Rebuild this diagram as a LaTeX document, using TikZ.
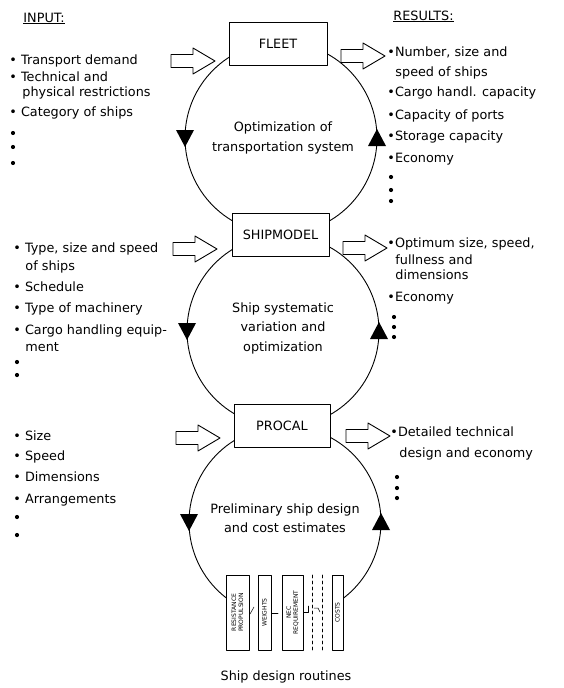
\documentclass[tikz,border=0pt]{standalone}
\usepackage{fontspec}
\setmainfont{DejaVu Sans}
\usetikzlibrary{positioning}
\newcommand{\bul}{\textbullet}

\tikzset{
  modelbox/.style={draw, fill=white, minimum height=43pt, inner sep=0pt},
  listitem/.style={anchor=base west, inner sep=0pt},
  goaltext/.style={align=center, inner sep=0pt, font=\fontsize{12.8}{19.5}\selectfont},
  routine/.style={draw, fill=white, rotate=90, minimum width=75pt, inner sep=1pt, align=center, font=\fontsize{6}{7}\selectfont},
  dotsize/.style={radius=2.1},
  pics/blockarrow/.style={code={
    \draw[fill=white] (0,-6.5) -- (22,-6.5) -- (22,-13) -- (44,0) -- (22,13) -- (22,6.5) -- (0,6.5) -- cycle;}},
  pics/downmark/.style={code={\fill (-9,-8) -- (9,-8) -- (0,9) -- cycle;}},
  pics/upmark/.style={code={\fill (-9,8) -- (9,8) -- (0,-9) -- cycle;}},
}

\begin{document}
\begin{tikzpicture}[x=1pt, y=-1pt, line cap=round, line join=round, line width=0.9pt,
  every node/.style={font=\fontsize{12.8}{15}\selectfont}]

\useasboundingbox (0,0) rectangle (563,688);

\coordinate (c1) at (281,138);
\coordinate (c2) at (283,331);
\coordinate (c3) at (285,522);

% the three loops
\draw (c1) circle[radius=96];
\draw (c2) circle[radius=96];
\draw (c3) ++(127.9:96) arc[start angle=127.9, end angle=412.8, radius=96];

\pic at (185,138) {downmark};
\pic at (377,138) {upmark};
\pic at (187,331) {downmark};
\pic at (379,331) {upmark};
\pic at (189,522) {downmark};
\pic at (381,522) {upmark};

% model boxes
\node[modelbox, minimum width=98pt] (fleet) at (278,43.5) {FLEET};
\node[modelbox, minimum width=97pt] (shipmodel) at (280.5,234.5) {SHIPMODEL};
\node[modelbox, minimum width=96pt] (procal) at (282,425.5) {PROCAL};

\node[goaltext] (goalfleet) at (283,138) {Optimization of\\transportation system};
\node[goaltext] (goalship) at (283,328) {Ship systematic\\variation and\\optimization};
\node[goaltext] (goalprocal) at (285,518) {Preliminary ship design\\and cost estimates};

% in and out arrows
\pic (infleet) at (171,61) {blockarrow};
\pic (outfleet) at (341,56) {blockarrow};
\pic (inship) at (173,249) {blockarrow};
\pic (outship) at (343,248) {blockarrow};
\pic (inprocal) at (176,438) {blockarrow};
\pic (outprocal) at (346,436) {blockarrow};

% headings
\node[listitem] (input) at (23,22) {\underline{INPUT:}};
\node[listitem] (results) at (393,20) {\underline{RESULTS:}};

% input to FLEET
\node[listitem] (inFa) at (9,64) {\bul\ Transport demand};
\node[listitem] (inFb) at (9,81) {\bul\ Technical and};
\node[listitem] (inFc) at (22,96) {physical restrictions};
\node[listitem] (inFd) at (9,116) {\bul\ Category of ships};
\fill (13,133) circle[dotsize] (13,147) circle[dotsize] (13,163) circle[dotsize];

% results of FLEET
\node[listitem] (outFa) at (387,56) {\bul Number, size and};
\node[listitem] (outFb) at (395,76) {speed of ships};
\node[listitem] (outFc) at (387,96) {\bul Cargo handl. capacity};
\node[listitem] (outFd) at (387,119) {\bul Capacity of ports};
\node[listitem] (outFe) at (387,140) {\bul Storage capacity};
\node[listitem] (outFf) at (387,162) {\bul Economy};
\fill (391,177) circle[dotsize] (391,190) circle[dotsize] (391,201) circle[dotsize];

% input to SHIPMODEL
\node[listitem] (inSa) at (13,252) {\bul\ Type, size and speed};
\node[listitem] (inSb) at (25,270) {of ships};
\node[listitem] (inSc) at (13,291) {\bul\ Schedule};
\node[listitem] (inSd) at (13,312) {\bul\ Type of machinery};
\node[listitem] (inSe) at (13,334) {\bul\ Cargo handling equip-};
\node[listitem] (inSf) at (25,351) {ment};
\fill (17,362) circle[dotsize] (17,375) circle[dotsize];

% results of SHIPMODEL
\node[listitem] (outSa) at (387,247) {\bul Optimum size, speed,};
\node[listitem] (outSb) at (395,264) {fullness and};
\node[listitem] (outSc) at (395,279) {dimensions};
\node[listitem] (outSd) at (387,301) {\bul Economy};
\fill (394,317) circle[dotsize] (394,327) circle[dotsize] (394,337) circle[dotsize];

% input to PROCAL
\node[listitem] (inPa) at (13,440) {\bul\ Size};
\node[listitem] (inPb) at (13,460) {\bul\ Speed};
\node[listitem] (inPc) at (13,481) {\bul\ Dimensions};
\node[listitem] (inPd) at (13,503) {\bul\ Arrangements};
\fill (17,517) circle[dotsize] (17,535) circle[dotsize];

% results of PROCAL
\node[listitem] (outPa) at (390,436) {\bul Detailed technical};
\node[listitem] (outPb) at (399,457) {design and economy};
\fill (397,477) circle[dotsize] (397,488) circle[dotsize] (397,498) circle[dotsize];

% design routines
\node[routine, minimum height=23pt] (resist) at (237.5,612.5) {RESISTANCE\\PROPULSION};
\node[routine, minimum height=13pt] (weights) at (264.5,612.5) {WEIGHTS};
\node[routine, minimum height=21pt] (necreq) at (292.5,612.5) {NEC\\REQUIREMENT};
\node[routine, minimum height=11pt] (costs) at (337.5,612.5) {COSTS};
\draw[dashed, line width=0.6pt] (312,575) -- (312,650);
\draw[dashed, line width=0.6pt] (322,575) -- (322,650);

\draw[line width=0.5pt] (250,614) -- (254,607);
\draw[line width=0.5pt] (272,613) -- (278,613);
\draw[line width=0.5pt] (304,612) -- (308,612) -- (308,606);
\draw[line width=0.5pt] (314,608) -- (318,608) -- (320,612);

\node (caption) at (286,677) {Ship design routines};

\end{tikzpicture}
\end{document}
